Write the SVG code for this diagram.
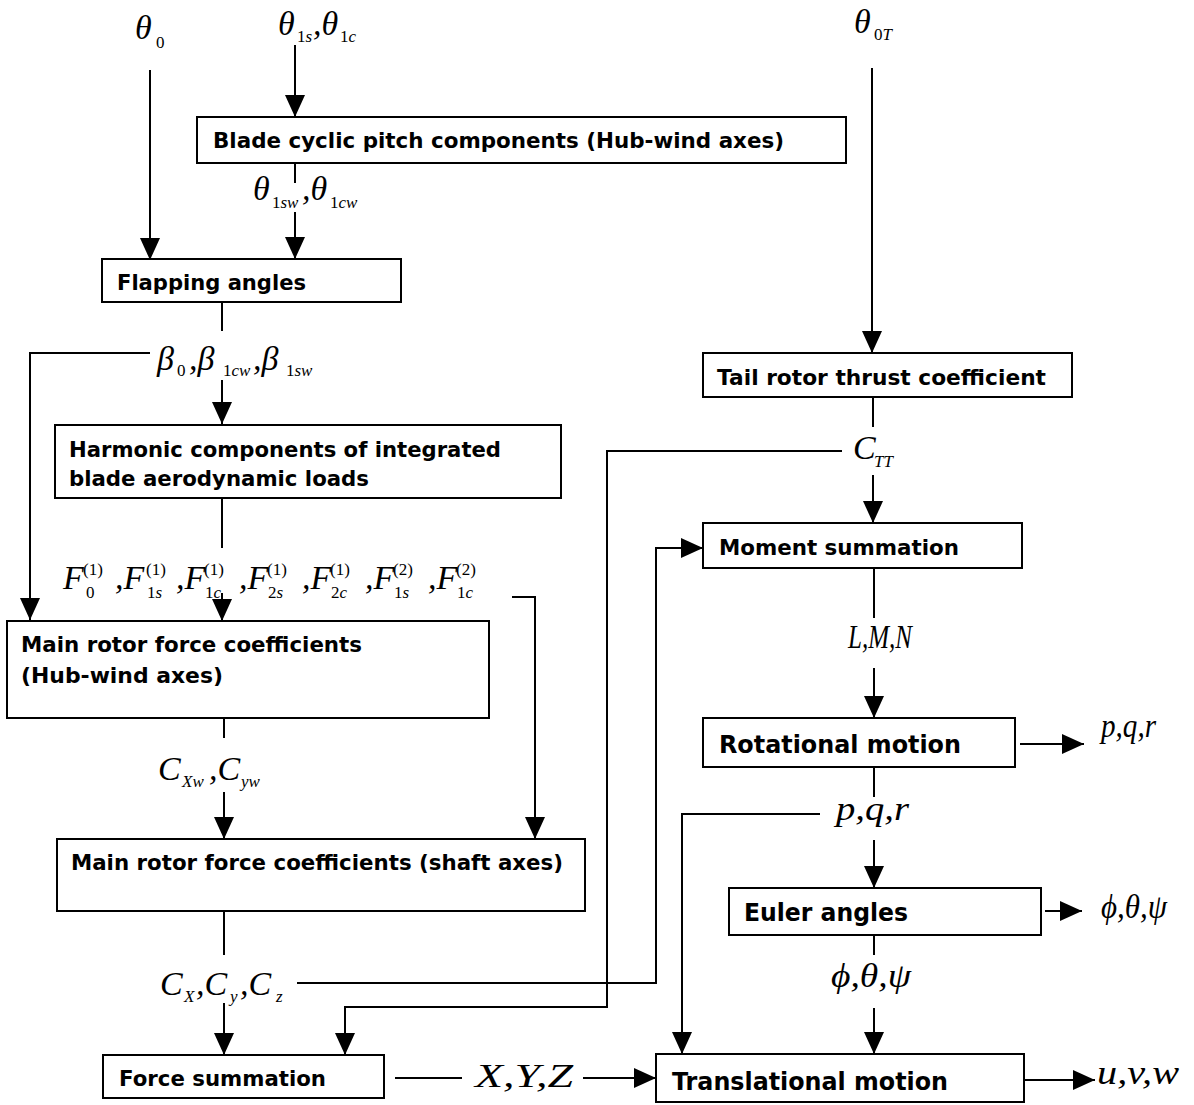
<svg xmlns="http://www.w3.org/2000/svg" width="1194" height="1105" viewBox="0 0 1194 1105">
<style>
.box{fill:#fff;stroke:#000;stroke-width:2}
.t{font-family:"DejaVu Sans",Verdana,sans-serif;font-weight:bold;font-size:22px;fill:#000}
.tl{font-size:25px}
.m{font-family:"Liberation Serif","Times New Roman",serif;font-style:italic;font-size:34px;fill:#000}
.s{font-size:17px}
.n{font-style:normal}
.c{fill:none;stroke:#000;stroke-width:2}
.a{marker-end:url(#ah)}
</style>
<defs>
<marker id="ah" markerUnits="userSpaceOnUse" markerWidth="22" markerHeight="20" refX="22" refY="10" orient="auto">
<path d="M0,0 L22,10 L0,20 z" fill="#000"/>
</marker>
</defs>
<rect width="1194" height="1105" fill="#fff"/>

<g id="connectors">
<line class="c a" x1="150" y1="70" x2="150" y2="260"/>
<line class="c a" x1="295" y1="45" x2="295" y2="117"/>
<line class="c" x1="295" y1="164" x2="295" y2="183"/>
<line class="c a" x1="295" y1="212" x2="295" y2="259"/>
<line class="c" x1="222" y1="302" x2="222" y2="331"/>
<line class="c a" x1="222" y1="380" x2="222" y2="424"/>
<polyline class="c a" points="150,353 30,353 30,620"/>
<line class="c" x1="222" y1="498" x2="222" y2="548"/>
<line class="c a" x1="222" y1="593" x2="222" y2="621"/>
<polyline class="c a" points="512,597 535,597 535,839"/>
<line class="c" x1="224" y1="718" x2="224" y2="738"/>
<line class="c a" x1="224" y1="792" x2="224" y2="839"/>
<line class="c" x1="224" y1="911" x2="224" y2="955"/>
<line class="c a" x1="224" y1="1003" x2="224" y2="1055"/>
<polyline class="c a" points="297,983 656,983 656,548 703,548"/>
<polyline class="c a" points="842,451 607,451 607,1007 345,1007 345,1055"/>
<line class="c a" x1="872" y1="68" x2="872" y2="353"/>
<line class="c" x1="873" y1="397" x2="873" y2="427"/>
<line class="c a" x1="873" y1="475" x2="873" y2="523"/>
<line class="c" x1="874" y1="568" x2="874" y2="618"/>
<line class="c a" x1="874" y1="668" x2="874" y2="718"/>
<line class="c a" x1="1020" y1="744" x2="1084" y2="744"/>
<line class="c" x1="874" y1="767" x2="874" y2="797"/>
<line class="c a" x1="874" y1="840" x2="874" y2="888"/>
<polyline class="c a" points="820,814 682,814 682,1054"/>
<line class="c a" x1="1045" y1="911" x2="1082" y2="911"/>
<line class="c" x1="874" y1="935" x2="874" y2="955"/>
<line class="c a" x1="874" y1="1008" x2="874" y2="1054"/>
<line class="c" x1="395" y1="1078" x2="462" y2="1078"/>
<line class="c a" x1="583" y1="1078" x2="656" y2="1078"/>
<line class="c a" x1="1024" y1="1080" x2="1095" y2="1080"/>
</g>

<g id="blade-cyclic">
<rect class="box" x="197" y="117" width="649" height="46"/>
<text class="t" x="213" y="148" textLength="571" lengthAdjust="spacingAndGlyphs">Blade cyclic pitch components (Hub-wind axes)</text>
</g>
<g id="flapping">
<rect class="box" x="102" y="259" width="299" height="43"/>
<text class="t" x="117" y="290" textLength="189" lengthAdjust="spacingAndGlyphs">Flapping angles</text>
</g>
<g id="harmonic">
<rect class="box" x="55" y="425" width="506" height="73"/>
<text class="t" x="69" y="457" textLength="432" lengthAdjust="spacingAndGlyphs">Harmonic components of integrated</text>
<text class="t" x="69" y="486" textLength="300" lengthAdjust="spacingAndGlyphs">blade aerodynamic loads</text>
</g>
<g id="main-hub">
<rect class="box" x="7" y="621" width="482" height="97"/>
<text class="t" x="21" y="652" textLength="341" lengthAdjust="spacingAndGlyphs">Main rotor force coefficients</text>
<text class="t" x="21" y="683" textLength="202" lengthAdjust="spacingAndGlyphs">(Hub-wind axes)</text>
</g>
<g id="main-shaft">
<rect class="box" x="57" y="839" width="528" height="72"/>
<text class="t" x="71" y="870" textLength="492" lengthAdjust="spacingAndGlyphs">Main rotor force coefficients (shaft axes)</text>
</g>
<g id="force-sum">
<rect class="box" x="103" y="1055" width="281" height="43"/>
<text class="t" x="119" y="1086" textLength="207" lengthAdjust="spacingAndGlyphs">Force summation</text>
</g>
<g id="tail-rotor">
<rect class="box" x="703" y="353" width="369" height="44"/>
<text class="t" x="717" y="385" textLength="329" lengthAdjust="spacingAndGlyphs">Tail rotor thrust coefficient</text>
</g>
<g id="moment-sum">
<rect class="box" x="703" y="523" width="319" height="45"/>
<text class="t" x="719" y="555" textLength="240" lengthAdjust="spacingAndGlyphs">Moment summation</text>
</g>
<g id="rotational">
<rect class="box" x="703" y="718" width="312" height="49"/>
<text class="t tl" x="719" y="753" textLength="242" lengthAdjust="spacingAndGlyphs">Rotational motion</text>
</g>
<g id="euler">
<rect class="box" x="729" y="888" width="312" height="47"/>
<text class="t tl" x="744" y="921" textLength="164" lengthAdjust="spacingAndGlyphs">Euler angles</text>
</g>
<g id="translational">
<rect class="box" x="656" y="1054" width="368" height="48"/>
<text class="t tl" x="672" y="1090" textLength="276" lengthAdjust="spacingAndGlyphs">Translational motion</text>
</g>

<g id="labels">
<text class="m" x="135" y="39" font-size="38">θ<tspan class="s n" x="156" y="48" font-size="21">0</tspan></text>
<text class="m" x="278" y="35">θ<tspan class="s n" x="297" y="42">1</tspan><tspan class="s">s</tspan><tspan x="313" y="35">,θ</tspan><tspan class="s n" x="340" y="42">1</tspan><tspan class="s">c</tspan></text>
<text class="m" x="253" y="200">θ<tspan class="s n" x="272" y="208">1</tspan><tspan class="s">sw</tspan><tspan x="302" y="200">,θ</tspan><tspan class="s n" x="330" y="208">1</tspan><tspan class="s">cw</tspan></text>
<text class="m" x="157" y="370">β<tspan class="s n" x="177" y="376">0</tspan><tspan x="189" y="370">,β</tspan><tspan class="s n" x="223" y="376">1</tspan><tspan class="s">cw</tspan><tspan x="253" y="370">,β</tspan><tspan class="s n" x="286" y="376">1</tspan><tspan class="s">sw</tspan></text>
<text class="m" x="63" y="589">F<tspan class="s n" x="83" y="575">(1)</tspan><tspan class="s n" x="86" y="598">0</tspan><tspan x="115" y="589">,F</tspan><tspan class="s n" x="146" y="575">(1)</tspan><tspan class="s n" x="147" y="598">1</tspan><tspan class="s">s</tspan><tspan x="176" y="589">,F</tspan><tspan class="s n" x="204" y="575">(1)</tspan><tspan class="s n" x="205" y="598">1</tspan><tspan class="s">c</tspan><tspan x="239" y="589">,F</tspan><tspan class="s n" x="267" y="575">(1)</tspan><tspan class="s n" x="268" y="598">2</tspan><tspan class="s">s</tspan><tspan x="302" y="589">,F</tspan><tspan class="s n" x="330" y="575">(1)</tspan><tspan class="s n" x="331" y="598">2</tspan><tspan class="s">c</tspan><tspan x="365" y="589">,F</tspan><tspan class="s n" x="393" y="575">(2)</tspan><tspan class="s n" x="394" y="598">1</tspan><tspan class="s">s</tspan><tspan x="428" y="589">,F</tspan><tspan class="s n" x="456" y="575">(2)</tspan><tspan class="s n" x="457" y="598">1</tspan><tspan class="s">c</tspan></text>
<text class="m" x="158" y="780">C<tspan class="s" x="182" y="787">Xw</tspan><tspan x="209" y="780">,C</tspan><tspan class="s" x="241" y="787">yw</tspan></text>
<text class="m" x="160" y="995">C<tspan class="s" x="184" y="1002">X</tspan><tspan x="196" y="995">,C</tspan><tspan class="s" x="230" y="1002">y</tspan><tspan x="240" y="995">,C</tspan><tspan class="s" x="276" y="1002">z</tspan></text>
<text class="m" x="475" y="1087" font-size="34" textLength="98" lengthAdjust="spacingAndGlyphs">X,Y,Z</text>
<text class="m" x="854" y="33">θ<tspan class="s n" x="874" y="40">0</tspan><tspan class="s">T</tspan></text>
<text class="m" x="853" y="459">C<tspan class="s" x="874" y="467">TT</tspan></text>
<text class="m" x="848" y="648" font-size="26" textLength="64" lengthAdjust="spacingAndGlyphs">L,M,N</text>
<text class="m" x="1101" y="737" font-size="25" textLength="55" lengthAdjust="spacingAndGlyphs">p,q,r</text>
<text class="m" x="836" y="820" font-size="34" textLength="73" lengthAdjust="spacingAndGlyphs">p,q,r</text>
<text class="m" x="1101" y="918" font-size="30" textLength="66" lengthAdjust="spacingAndGlyphs">ϕ,θ,ψ</text>
<text class="m" x="831" y="987" font-size="32" textLength="80" lengthAdjust="spacingAndGlyphs">ϕ,θ,ψ</text>
<text class="m" x="1097" y="1084" font-size="34" textLength="82" lengthAdjust="spacingAndGlyphs">u,v,w</text>
</g>
</svg>
